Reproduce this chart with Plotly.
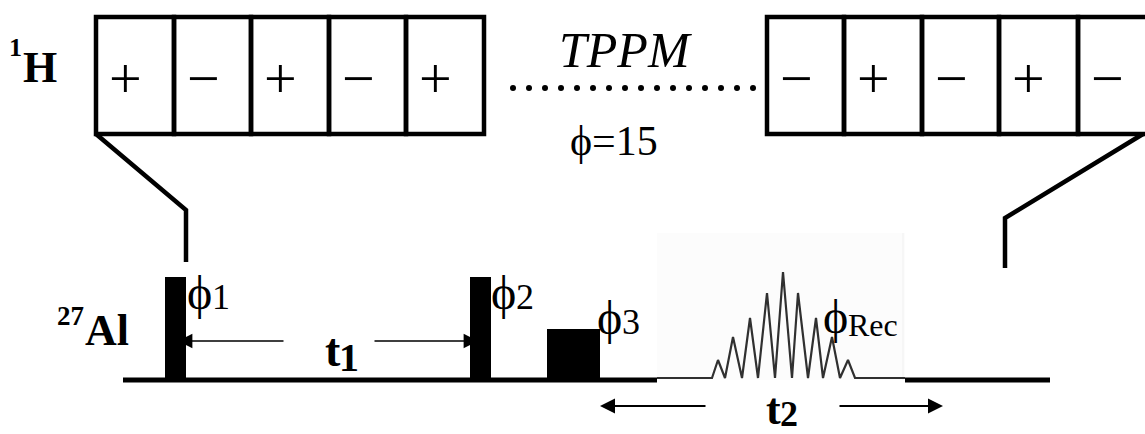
import plotly.graph_objects as go

W, H = 1145, 434

# ---- data (schematic coordinates) ----
# TPPM decoupling on 1H: phase signs of each block element
tppm_left_signs = ["+", "\u2212", "+", "\u2212", "+"]
tppm_right_signs = ["\u2212", "+", "\u2212", "+", "\u2212"]
tppm_left_edges = [96, 174, 251, 329, 406, 484]
tppm_right_edges = [767, 844, 922, 999, 1078, 1156]
tppm_top = 17
tppm_bottom = 134
tppm_phase = 15
tppm_dots_x = [513, 529, 545, 561, 577, 593, 609, 625, 641, 657, 673, 689, 705, 721, 737, 753]
tppm_dots_y = 88

# zoom (connector) lines from TPPM blocks down to the 27Al sequence
zoom_left_x = [96, 186, 186]
zoom_left_y = [134, 210, 262]
zoom_right_x = [1143, 1005, 1005]
zoom_right_y = [134, 218, 268]

# 27Al pulses
pulse_start = [165, 470, 547]
pulse_end = [186, 491, 600]
pulse_top = [277, 277, 329]
pulse_phase = ["1", "2", "3"]
baseline_y = 380
baseline_segments = [(123, 657), (905, 1050)]

# acquisition (echo FID): peaks / troughs
fid_x = [657, 712, 718, 725, 733, 742, 750, 758, 767, 775, 783, 792, 798,
         808, 816, 823, 832, 840, 848, 855, 857, 905]
fid_y = [378, 378, 360, 378, 337, 378, 318, 378, 293, 378, 272, 378, 293,
         378, 318, 378, 337, 378, 360, 378, 378, 378]
fid_box = (657, 905, 233, 380)

# time intervals (arrow extents)
t1_arrows = [(285, 178), (373, 478)]   # (tail, tip)
t2_arrows = [(707, 600), (838, 943)]
t1_y = 341
t2_y = 406

SERIF = "Liberation Serif"

fig = go.Figure()
shapes = []
ann = []

# FID background box (pasted bitmap, faintly off-white)
shapes.append(dict(type="rect", x0=fid_box[0], x1=fid_box[1], y0=fid_box[2], y1=fid_box[3],
                   fillcolor="#fcfcfc", line=dict(width=0), layer="below"))
shapes.append(dict(type="line", x0=fid_box[1] - 2, x1=fid_box[1] - 2, y0=fid_box[2], y1=fid_box[3],
                   line=dict(color="#f0f0f0", width=1), layer="below"))


def txt(x, y, s, size, bold=False, italic=False, xa="center", ya="middle"):
    ann.append(dict(x=x, y=y, text=s, xanchor=xa, yanchor=ya, showarrow=False,
                    xref="x", yref="y", borderpad=0,
                    font=dict(family=SERIF, size=size, color="black",
                              weight="bold" if bold else "normal",
                              style="italic" if italic else "normal")))


# TPPM blocks
for edges, signs in ((tppm_left_edges, tppm_left_signs), (tppm_right_edges, tppm_right_signs)):
    for i, s in enumerate(signs):
        shapes.append(dict(type="rect", x0=edges[i], x1=edges[i + 1], y0=tppm_top, y1=tppm_bottom,
                           line=dict(color="black", width=4.5), fillcolor="rgba(0,0,0,0)"))
        txt(edges[i] + 29, 78, s, 58)

# dotted continuation
fig.add_trace(go.Scatter(x=tppm_dots_x, y=[tppm_dots_y] * len(tppm_dots_x), mode="markers",
                         marker=dict(size=6, color="black"), hoverinfo="skip", showlegend=False))

# connector lines
for xs, ys in ((zoom_left_x, zoom_left_y), (zoom_right_x, zoom_right_y)):
    fig.add_trace(go.Scatter(x=xs, y=ys, mode="lines", line=dict(color="black", width=4.5),
                             hoverinfo="skip", showlegend=False))

# baseline
for a, b in baseline_segments:
    shapes.append(dict(type="line", x0=a, x1=b, y0=baseline_y, y1=baseline_y,
                       line=dict(color="black", width=5)))

# FID
fig.add_trace(go.Scatter(x=fid_x, y=fid_y, mode="lines", line=dict(color="#303030", width=2.2),
                         hoverinfo="skip", showlegend=False))

# pulses
for xs, xe, yt in zip(pulse_start, pulse_end, pulse_top):
    shapes.append(dict(type="rect", x0=xs, x1=xe, y0=yt, y1=baseline_y + 2,
                       fillcolor="black", line=dict(width=0)))

# arrows
for (tail, tip) in t1_arrows:
    ann.append(dict(x=tip, y=t1_y, ax=tail, ay=t1_y, axref="x", ayref="y", xref="x", yref="y",
                    showarrow=True, arrowhead=2, arrowsize=1.8, arrowwidth=1.6, arrowcolor="black", text=""))
for (tail, tip) in t2_arrows:
    ann.append(dict(x=tip, y=t2_y, ax=tail, ay=t2_y, axref="x", ayref="y", xref="x", yref="y",
                    showarrow=True, arrowhead=2, arrowsize=1.5, arrowwidth=2, arrowcolor="black", text=""))

# channel labels
txt(15, 47, "1", 26, bold=True)
txt(40, 67, "H", 44, bold=True)
txt(70, 316, "27", 27, bold=True)
txt(107, 330, "Al", 44, bold=True)

# TPPM text
txt(625, 50, "TPPM", 50, italic=True)
txt(614, 141, "\u03d5=" + str(tppm_phase), 42)

# phase labels
phase_x = [187, 491, 597]
phase_y = [292, 292, 317]
for px, py, p in zip(phase_x, phase_y, pulse_phase):
    txt(px - 1, py, "\u03d5", 48, xa="left")
    txt(px + 24, py + 5, p, 36, xa="left")
txt(822, 316, "\u03d5", 48, xa="left")
txt(847, 325, "Rec", 32, xa="left")

# intervals
txt(333, 350, "t", 46, bold=True)
txt(349, 357, "1", 40, bold=True)
txt(773, 409, "t", 44, bold=True)
txt(789, 414, "2", 36, bold=True)

fig.update_layout(
    width=W, height=H, margin=dict(l=0, r=0, t=0, b=0),
    paper_bgcolor="white", plot_bgcolor="white",
    xaxis=dict(range=[0, W], visible=False, fixedrange=True),
    yaxis=dict(range=[H, 0], visible=False, fixedrange=True),
    shapes=shapes, annotations=ann, showlegend=False,
)
fig.write_html("out.html")
